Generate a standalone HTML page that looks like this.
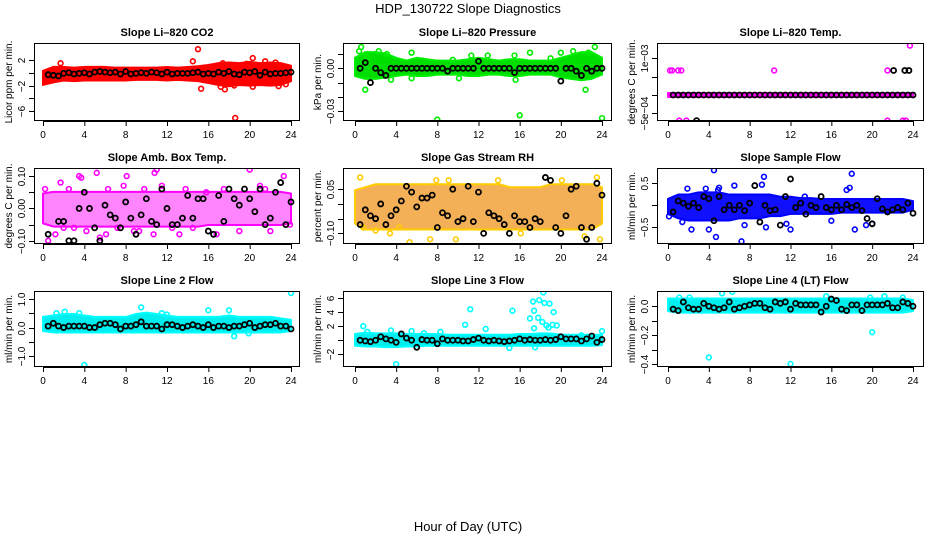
<!DOCTYPE html>
<html><head><meta charset="utf-8"><style>
body{margin:0;background:#fff}
svg{display:block;font-family:"Liberation Sans",sans-serif}
</style></head><body>
<svg id="c" width="936" height="540" viewBox="0 0 936 540">
<text x="468" y="13" text-anchor="middle" font-size="13">HDP_130722  Slope Diagnostics</text>
<text x="468" y="531" text-anchor="middle" font-size="13">Hour of Day (UTC)</text>
</svg>
<script>
// ---- data ----
const hours = [0,1,2,3,4,5,6,7,8,9,10,11,12,13,14,15,16,17,18,19,20,21,22,23,24];
const xTicks = [0,4,8,12,16,20,24];
const blackX = [0.5,1,1.5,2,2.5,3,3.5,4,4.5,5,5.5,6,6.5,7,7.5,8,8.5,9,9.5,10,10.5,11,11.5,12,12.5,13,13.5,14,14.5,15,15.5,16,16.5,17,17.5,18,18.5,19,19.5,20,20.5,21,21.5,22,22.5,23,23.5,24];

const p1Hi = [0,0.6,0.6,0.5,0.6,0.6,0.6,0.5,0.5,0.5,0.5,0.5,0.6,0.5,0.6,0.7,0.9,1.2,1.3,1.2,1.4,1.2,1.3,1.2,0.8];
const p1Lo = [-1.6,-1.2,-0.9,-1,-0.9,-0.9,-0.9,-0.9,-0.9,-0.8,-0.8,-0.8,-0.9,-0.8,-0.9,-1,-1.3,-1.6,-1.8,-1.6,-1.7,-1.6,-1.7,-1.6,-1];
const p1Black = [-0.3,-0.4,-0.5,-0.1,0,-0.2,-0.1,0,-0.2,0.1,0.2,0.1,0,0.1,-0.2,0.2,-0.2,-0.1,0,-0.1,0.1,0,-0.2,0.1,-0.2,-0.1,-0.1,-0.1,0,0.1,-0.2,-0.1,-0.2,0.1,-0.1,0.2,-0.2,-0.3,0.1,0,0.2,-0.4,0.1,-0.2,-0.1,-0.1,0,0.1];
const p1OutX = [15,1.7,14.5,15.3,18.6,17.6,18.5,20.3,20.3,21.5,22.8,17.4,19.7,22.5,17.2,23.5];
const p1OutY = [3.7,1.5,1.8,-2.5,-7.1,-2.6,-2,2.3,-2.2,1.8,-2.1,1.5,1.4,1.6,-2.2,-1.8];

const p2Hi = [0.006,0.01,0.01,0.009,0.006,0.004,0.006,0.005,0.004,0.004,0.004,0.005,0.006,0.005,0.004,0.005,0.005,0.004,0.004,0.004,0.006,0.008,0.01,0.01,0.006];
const p2Lo = [-0.004,-0.006,-0.006,-0.005,-0.004,-0.003,-0.004,-0.004,-0.003,-0.003,-0.003,-0.004,-0.004,-0.003,-0.003,-0.004,-0.004,-0.003,-0.003,-0.003,-0.005,-0.006,-0.007,-0.006,-0.003];
const p2Black = [0,0.004,-0.01,0,-0.003,-0.005,0,0,0,0,0,0,0,0,0,0,0,-0.002,0,0,0,0,0,0.005,0,0,0,0,0,0,-0.003,0,0,0,0,0,0,0,0,-0.009,0,0,-0.002,-0.005,0,-0.002,0,0];
const p2OutX = [8,16,24,1,0.6,2.3,5.5,22.4,23.3,15.5,17,20,21.2,3.5,5.5,15.6,0.4,1.2,3.1,11.3,12.9,9.5,19,22.7,10.1];
const p2OutY = [-0.036,-0.033,-0.035,-0.015,0.015,0.012,0.011,-0.015,0.015,0.009,0.011,0.011,0.012,-0.008,-0.007,-0.008,0.012,0.008,0.01,0.009,0.009,0.006,0.007,0.011,-0.007];

const p3Base = [0,0,0,0,0,0,0,0,0,0,0,0,0,0,0,0,0,0,0,0,0,0,0,0,0];
const p3Black = [0,0,0,0,0,0,0,0,0,0,0,0,0,0,0,0,0,0,0,0,0,0,0,0,0,0,0,0,0,0,0,0,0,0,0,0,0,0,0,0,0,0,0,0,0,0,0,0];
const p3OutX = [0.2,0.4,1,1.3,10.4,21.5,1.1,1.8,21.5,23,23.3,23.7];
const p3OutY = [0.00067,0.00067,0.00067,0.00067,0.00067,0.00067,-0.0007,-0.0007,-0.0007,-0.0007,-0.0007,0.00135];
const p3BlkX = [22.1,23.2,23.6,2.8];
const p3BlkY = [0.00067,0.00067,0.00067,-0.0007];

const p4Hi = [0.04,0.045,0.045,0.045,0.045,0.045,0.045,0.045,0.045,0.045,0.045,0.045,0.045,0.045,0.045,0.045,0.045,0.045,0.045,0.045,0.045,0.045,0.045,0.045,0.04];
const p4Lo = [-0.04,-0.05,-0.05,-0.05,-0.05,-0.05,-0.05,-0.05,-0.05,-0.05,-0.05,-0.05,-0.05,-0.05,-0.05,-0.05,-0.045,-0.045,-0.045,-0.045,-0.045,-0.045,-0.045,-0.045,-0.04];
const p4Black = [-0.08,-0.12,-0.04,-0.04,-0.1,-0.1,0,0.05,0,-0.06,-0.1,0.01,-0.02,-0.03,-0.06,0.02,-0.03,-0.08,-0.02,0.03,-0.04,-0.05,0.06,0,-0.05,-0.05,-0.03,0.04,-0.03,0.03,0.03,-0.07,-0.08,0.04,-0.04,0.06,0.03,0.01,0.06,0.03,-0.01,0.06,-0.05,-0.03,0.05,0.08,-0.05,0.02];
const p4OutX = [0.2,0.5,1.7,2,3.5,3.7,5.2,5.5,6.3,7.2,8.1,9.8,10.8,11,10.7,11.5,13.2,15.8,16.8,20,21.5,23.3,22,23.9,12.5,1.2,6.1,9.3,2.5,4.2,7.8,14.5,17.5,19,21,3,8.8,13.8];
const p4OutY = [0.06,-0.1,0.08,-0.06,0.1,0.095,0.11,-0.09,0.06,-0.06,0.1,0.06,0.11,0.12,-0.08,0.07,-0.08,0.05,-0.08,0.12,0.06,0.1,-0.07,-0.05,-0.06,-0.08,-0.08,-0.07,0.06,-0.07,0.07,-0.06,0.06,-0.07,0.07,-0.06,-0.07,0.06];

const p5Hi = [0.04,0.05,0.06,0.06,0.06,0.06,0.06,0.06,0.06,0.06,0.06,0.06,0.06,0.06,0.06,0.05,0.05,0.05,0.05,0.06,0.06,0.06,0.06,0.06,0.05];
const p5Lo = [-0.06,-0.08,-0.08,-0.08,-0.08,-0.08,-0.08,-0.08,-0.08,-0.08,-0.08,-0.08,-0.08,-0.08,-0.08,-0.08,-0.08,-0.08,-0.08,-0.08,-0.08,-0.08,-0.08,-0.08,-0.06];
const p5Black = [-0.07,-0.02,-0.04,-0.05,0,-0.07,-0.04,-0.02,0.01,0.06,0.04,-0.01,0.02,0.02,0.03,-0.08,-0.03,-0.04,0.05,-0.06,-0.05,0.06,-0.06,0.04,-0.1,-0.03,-0.04,-0.05,-0.07,-0.1,-0.04,-0.06,-0.06,-0.08,-0.05,-0.06,0.09,0.08,-0.08,-0.1,-0.04,0.05,0.06,-0.08,-0.12,-0.08,0.07,0.03];
const p5OutX = [0.5,3.4,5.3,7.3,9.8,13.9,16.1,20.1,22.3,23.5,23.8,2,4.3,0.8,7.9,9.1];
const p5OutY = [0.09,-0.1,-0.13,-0.12,-0.12,0.08,-0.1,0.08,-0.11,0.09,-0.12,-0.09,-0.08,-0.08,0.08,0.08];

const p6Hi = [0.1,0.2,0.2,0.25,0.25,0.25,0.2,0.2,0.2,0.2,0.2,0.15,0.15,0.12,0.12,0.1,0.1,0.1,0.1,0.1,0.1,0.1,0.1,0.1,0.05];
const p6Lo = [-0.15,-0.25,-0.3,-0.3,-0.3,-0.3,-0.3,-0.25,-0.25,-0.25,-0.2,-0.2,-0.15,-0.15,-0.15,-0.15,-0.15,-0.12,-0.12,-0.12,-0.12,-0.12,-0.12,-0.12,-0.05];
const p6Black = [-0.15,0.1,0.05,-0.02,0.05,-0.05,0.2,0.15,-0.35,0.2,-0.1,0,-0.1,0,-0.12,0.05,0.45,-0.38,0,-0.12,-0.1,-0.45,0.2,0.6,-0.05,0.05,-0.2,0,-0.05,0.2,-0.05,-0.1,0,-0.1,0.02,-0.05,0,-0.12,-0.3,-0.42,0.15,-0.08,-0.15,-0.1,-0.05,-0.1,0.05,-0.18];
const p6OutX = [4.5,9.4,7.2,4.7,4,2.3,18,18.3,6.5,9.2,3.7,1.9,12,11.6,16,17.8,17.5,19.4,20,0.1,1.4,7.5,9.6,13.4,5,4.9];
const p6OutY = [0.8,0.65,-0.82,-0.72,-0.55,-0.55,0.72,-0.55,0.45,0.47,0.38,0.38,-0.55,-0.42,-0.35,0.4,0.35,-0.45,-0.42,-0.25,-0.38,-0.45,-0.5,0.2,0.4,0.35];

const p7Hi = [0.3,0.35,0.4,0.4,0.35,0.3,0.3,0.3,0.3,0.4,0.45,0.4,0.35,0.3,0.3,0.3,0.3,0.3,0.35,0.3,0.3,0.3,0.3,0.25,0.2];
const p7Lo = [-0.05,-0.1,-0.1,-0.1,-0.1,-0.1,-0.1,-0.1,-0.1,-0.1,-0.1,-0.1,-0.1,-0.1,-0.1,-0.1,-0.1,-0.1,-0.1,-0.1,-0.1,-0.1,-0.1,-0.1,-0.05];
const p7Black = [0.05,0.15,0.05,0,0.05,0.05,0.05,0.05,0,0,0.1,0.15,0.15,0.1,-0.05,0.05,0.05,0.1,0.2,0.05,0.05,0.05,-0.05,0.1,0.1,0.05,0,0.05,0.1,0.05,0,0.1,0,0.05,0.05,0,0.05,0.05,0.1,0.15,0,0.05,0.1,0.1,0.15,0.05,0.05,-0.05];
const p7OutX = [4,24,16,18,18.5,9.5,19.9,2.1,1.3,3.5,11.5,12];
const p7OutY = [-1.3,1.2,0.6,0.6,-0.3,0.7,-0.2,0.55,0.5,0.5,0.5,0.45];

const p8Hi = [0.6,0.8,0.7,0.7,0.7,0.6,0.6,0.6,0.6,0.5,0.5,0.5,0.5,0.5,0.5,0.5,0.6,0.6,0.7,0.7,0.5,0.5,0.5,0.5,0.5];
const p8Lo = [-0.5,-0.6,-0.6,-0.7,-0.7,-0.6,-0.6,-0.5,-0.5,-0.5,-0.5,-0.5,-0.5,-0.5,-0.5,-0.5,-0.5,-0.5,-0.5,-0.5,-0.5,-0.5,-0.5,-0.5,-0.4];
const p8Black = [0,-0.1,-0.2,0,0.5,0.2,0,-0.3,0.9,0.3,0,-1,0.1,0,0,-0.5,0.2,0,0,0,-0.1,-0.1,0.1,0.3,0,-0.1,0,-0.1,-0.2,-0.1,0,0.2,0,0.1,0,0,0.1,0,0.1,0.5,0.2,0.2,0.2,-0.1,0.2,0.6,-0.3,0.1];
const p8OutX = [18.3,17.3,17.9,18.4,18.9,17.4,15.3,11.2,19.3,17,17.8,18.2,17.4,18.8,19.2,19.6,18.6,10.7,12.7,0.8,1.2,3.5,8.3,5.5,24,4,15,17.5,6.7,22];
const p8OutY = [6.8,5.5,5.7,5.3,5.2,4.2,4.2,4.4,4,3.1,3.2,2.6,1.7,1.8,2.2,2.1,2.1,2.2,1.6,2,1.2,1.4,1.2,1.3,1.3,-3.4,-1.1,-1,1,0.7];

const p9Hi = [0.04,0.04,0.04,0.04,0.04,0.04,0.04,0.04,0.04,0.04,0.04,0.04,0.04,0.04,0.04,0.04,0.04,0.04,0.04,0.04,0.04,0.04,0.04,0.04,0.03];
const p9Lo = [-0.02,-0.03,-0.03,-0.03,-0.03,-0.03,-0.03,-0.03,-0.03,-0.03,-0.03,-0.03,-0.03,-0.03,-0.03,-0.03,-0.03,-0.03,-0.03,-0.03,-0.03,-0.03,-0.03,-0.03,-0.02];
const p9Black = [-0.02,-0.03,0.03,-0.01,-0.02,-0.02,0.02,0,-0.01,-0.02,-0.01,0.03,-0.02,-0.01,0,0.01,0.02,0.02,-0.01,-0.02,0.03,0.02,0.03,-0.02,0.02,0.01,0.01,0.01,0.01,-0.04,0,0.05,0.04,-0.02,-0.03,0.01,0.01,-0.03,0.01,0.01,0.01,0.01,0.02,-0.01,-0.01,0.03,0.02,0];
const p9OutX = [4,12,20,6.3,5.3,1.1,2.1,15.5,19.8,21.2,23];
const p9OutY = [-0.355,-0.4,-0.18,0.1,0.09,0.06,0.06,0.07,0.06,0.07,0.06];

// ---- layout ----
const svg = document.getElementById('c');
const NS = 'http://www.w3.org/2000/svg';
function mk(tag, attrs, parent){const e=document.createElementNS(NS,tag);for(const k in attrs)e.setAttribute(k,attrs[k]);(parent||svg).appendChild(e);return e;}

const panels = [
 {name:'co2',title:'Slope Li\u2013820 CO2',ylab:'Licor ppm per min.',L:34,R:300,T:43,B:121,x0:43,x24:291,ymin:-7.57,ymax:4.67,ticks:[2,0,-2,-4,-6],labels:['2','','\u22122','','\u22126'],col:'#ff0000',fill:'#ff0000',op:1,hi:p1Hi,lo:p1Lo,blk:p1Black,ox:p1OutX,oy:p1OutY},
 {name:'pressure',title:'Slope Li\u2013820 Pressure',ylab:'kPa per min.',L:343,R:612,T:43,B:121,x0:355,x24:602,ymin:-0.037,ymax:0.0178,ticks:[0.01,0,-0.01,-0.02,-0.03],labels:['','0.00','','','\u22120.03'],col:'#00ee00',fill:'#00dd00',op:1,hi:p2Hi,lo:p2Lo,blk:p2Black,ox:p2OutX,oy:p2OutY},
 {name:'temp',title:'Slope Li\u2013820 Temp.',ylab:'degrees C  per min.',L:657,R:924,T:43,B:121,x0:668,x24:913,ymin:-0.00071,ymax:0.00142,ticks:[0.001,0.0005,0,-0.0005],labels:['1e\u221203','','','\u22125e\u221204'],col:'#ff00ff',fill:'#ff00ff',op:1,hi:p3Base,lo:p3Base,blk:p3Black,ox:p3OutX,oy:p3OutY,bx2:p3BlkX,by2:p3BlkY},
 {name:'amb-box-temp',title:'Slope Amb. Box Temp.',ylab:'degrees C per min.',L:34,R:300,T:168,B:244,x0:43,x24:291,ymin:-0.11,ymax:0.125,ticks:[0.1,0.05,0,-0.05,-0.1],labels:['0.10','','0.00','','\u22120.10'],col:'#ff00ff',fill:'#ff33ff',op:0.6,hi:p4Hi,lo:p4Lo,blk:p4Black,ox:p4OutX,oy:p4OutY},
 {name:'gas-stream-rh',title:'Slope Gas Stream RH',ylab:'percent per min.',L:343,R:612,T:168,B:244,x0:355,x24:602,ymin:-0.136,ymax:0.122,ticks:[0.05,0,-0.05,-0.1],labels:['0.05','','','\u22120.10'],col:'#ffcc00',fill:'#f2a23a',op:0.85,hi:p5Hi,lo:p5Lo,blk:p5Black,ox:p5OutX,oy:p5OutY},
 {name:'sample-flow',title:'Slope Sample Flow',ylab:'ml/min per min.',L:657,R:924,T:168,B:244,x0:668,x24:913,ymin:-0.88,ymax:0.85,ticks:[0.5,0,-0.5],labels:['0.5','','\u22120.5'],col:'#0000ff',fill:'#1010ff',op:1,hi:p6Hi,lo:p6Lo,blk:p6Black,ox:p6OutX,oy:p6OutY},
 {name:'line2-flow',title:'Slope Line 2 Flow',ylab:'ml/min per min.',L:34,R:300,T:291,B:367,x0:43,x24:291,ymin:-1.37,ymax:1.27,ticks:[1,0.5,0,-0.5,-1],labels:['1.0','','0.0','','\u22121.0'],col:'#00ffff',fill:'#00eeee',op:1,hi:p7Hi,lo:p7Lo,blk:p7Black,ox:p7OutX,oy:p7OutY},
 {name:'line3-flow',title:'Slope Line 3 Flow',ylab:'ml/min per min.',L:343,R:612,T:291,B:367,x0:355,x24:602,ymin:-3.8,ymax:7,ticks:[6,4,2,0,-2],labels:['6','4','2','','\u22122'],col:'#00ffff',fill:'#00eeee',op:1,hi:p8Hi,lo:p8Lo,blk:p8Black,ox:p8OutX,oy:p8OutY},
 {name:'line4-flow',title:'Slope Line 4 (LT) Flow',ylab:'ml/min per min.',L:657,R:924,T:291,B:367,x0:668,x24:913,ymin:-0.421,ymax:0.106,ticks:[0,-0.1,-0.2,-0.3,-0.4],labels:['0.0','','\u22120.2','','\u22120.4'],col:'#00ffff',fill:'#00eeee',op:1,hi:p9Hi,lo:p9Lo,blk:p9Black,ox:p9OutX,oy:p9OutY}
];

panels.forEach(p=>{
  const xs = h => p.x0 + (p.x24-p.x0)*h/24;
  const ys = v => p.B - (v-p.ymin)/(p.ymax-p.ymin)*(p.B-p.T);
  const g = mk('g',{});
  
  
  const clip = mk('clipPath',{id:'cl-'+p.name},g);
  mk('rect',{x:p.L,y:p.T,width:p.R-p.L,height:p.B-p.T},clip);
  const plot = mk('g',{'clip-path':'url(#cl-'+p.name+')'},g);
  let pts=[];
  hours.forEach((h,i)=>pts.push(xs(h)+','+(ys(p.hi[i])-2)));
  for(let i=hours.length-1;i>=0;i--) pts.push(xs(hours[i])+','+(ys(p.lo[i])+2));
  const band = mk('polygon',{points:pts.join(' '),fill:p.fill,'fill-opacity':p.op,stroke:p.col,'stroke-width':2,'stroke-linejoin':'round'},plot);
  
  
  p.ox.forEach((h,i)=>{
    const c = mk('circle',{cx:xs(h),cy:ys(p.oy[i]),r:2.4,fill:'none',stroke:p.col,'stroke-width':1.6},plot);
    
    
  });
  blackX.forEach((h,i)=>{
    const c = mk('circle',{cx:xs(h),cy:ys(p.blk[i]),r:2.5,fill:'none',stroke:'#000','stroke-width':1.8},plot);
    
    
  });
  if(p.bx2) p.bx2.forEach((h,i)=>{
    const c = mk('circle',{cx:xs(h),cy:ys(p.by2[i]),r:2.5,fill:'none',stroke:'#000','stroke-width':1.8},plot);
    
    
  });
  const box = mk('rect',{x:p.L+0.5,y:p.T+0.5,width:p.R-p.L-1,height:p.B-p.T-1,fill:'none',stroke:'#000','stroke-width':1},g);
  
  
  const xa = mk('g',{},g);
  
  
  mk('line',{x1:xs(0),x2:xs(24),y1:p.B+0.5,y2:p.B+0.5,stroke:'#000'},xa);
  xTicks.forEach(t=>{
    mk('line',{x1:xs(t)+0.5,x2:xs(t)+0.5,y1:p.B,y2:p.B+5,stroke:'#000'},xa);
    const tx = mk('text',{x:xs(t),y:p.B+17,'text-anchor':'middle','font-size':10},xa);
    tx.textContent=t;
  });
  const ya = mk('g',{},g);
  
  
  p.ticks.forEach((t,i)=>{
    const y = Math.round(ys(t))+0.5;
    mk('line',{x1:p.L-5,x2:p.L,y1:y,y2:y,stroke:'#000'},ya);
    if(p.labels[i]){
      const tx = mk('text',{x:0,y:0,'text-anchor':'middle','font-size':10,transform:`translate(${p.L-9},${y}) rotate(-90)`},ya);
      tx.textContent=p.labels[i];
    }
  });
  const yt = mk('text',{x:0,y:0,'text-anchor':'middle','font-size':10,transform:`translate(${p.L-22},${(p.T+p.B)/2}) rotate(-90)`},g);
  yt.textContent=p.ylab;
  
  
  const tt = mk('text',{x:(p.L+p.R)/2,y:p.T-7,'text-anchor':'middle','font-size':11,'font-weight':'bold'},g);
  tt.textContent=p.title;
  
  
});
</script>
</body></html>
